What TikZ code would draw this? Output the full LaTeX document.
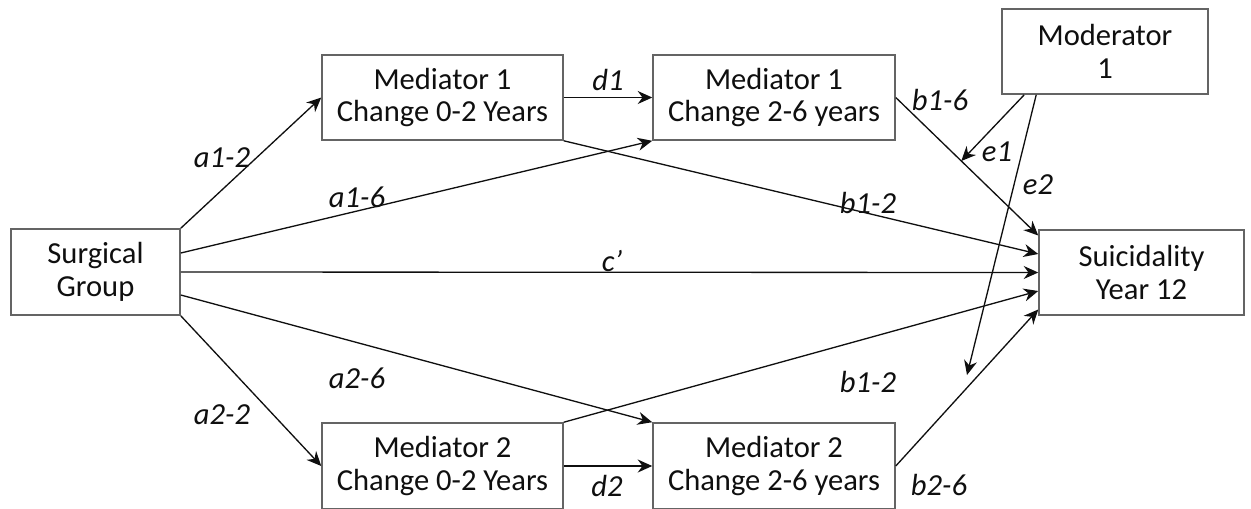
\documentclass[tikz,border=0pt]{standalone}
\usepackage{fontspec}
\setmainfont{Carlito}
\usepackage{tikz}
\usetikzlibrary{arrows.meta, positioning, calc}
\definecolor{boxgray}{RGB}{100,100,100}
\definecolor{inkdark}{RGB}{15,15,15}

\begin{document}
\begin{tikzpicture}[x=0.02cm, y=-0.02cm, >={Stealth[length=2.9mm, width=2.6mm]},
    varbox/.style={draw=boxgray, line width=0.9pt, align=center, text=inkdark, inner sep=0pt,
        font=\fontsize{17.4}{18.4}\selectfont},
    conn/.style={->, line width=0.75pt, color=inkdark},
    lbl/.style={font=\fontsize{17.4}{18.4}\selectfont\itshape, text=inkdark, inner sep=0pt}]
    \useasboundingbox (0,0) rectangle (1251,508);

    \node[varbox, minimum width=3.38cm, minimum height=1.72cm] (surg) at (95.5,272) {Surgical\\Group};
    \node[varbox, minimum width=4.82cm, minimum height=1.70cm] (med1a) at (442.5,97.5) {Mediator 1\\Change 0-2 Years};
    \node[varbox, minimum width=4.84cm, minimum height=1.70cm] (med1b) at (774,97.5) {Mediator 1\\Change 2-6 years};
    \node[varbox, minimum width=4.82cm, minimum height=1.72cm] (med2a) at (442.5,466) {Mediator 2\\Change 0-2 Years};
    \node[varbox, minimum width=4.84cm, minimum height=1.72cm] (med2b) at (774,466) {Mediator 2\\Change 2-6 years};
    \node[varbox, minimum width=4.12cm, minimum height=1.70cm] (mod) at (1105,51.5) {Moderator\\1};
    \node[varbox, minimum width=4.10cm, minimum height=1.70cm] (suic) at (1141.5,272.5) {Suicidality\\Year 12};

    \draw[conn] (surg.north east) -- (med1a.west);
    \draw[conn] ([yshift=0.38cm]surg.east) -- (med1b.south west);
    \draw[conn] (surg.east) -- (suic.west);
    \draw[conn] ([yshift=-0.46cm]surg.east) -- (med2b.north west);
    \draw[conn] (surg.south east) -- (med2a.west);
    \draw[conn] (med1a.east) -- (med1b.west);
    \draw[conn] (med2a.east) -- (med2b.west);
    \draw[conn] (med1a.south east) -- ([yshift=0.37cm]suic.west);
    \draw[conn] (med1b.east) -- coordinate[pos=0.46] (e1tip) ([yshift=0.74cm]suic.west);
    \draw[conn] (med2a.north east) -- ([yshift=-0.37cm]suic.west);
    \draw[conn] (med2b.east) -- ([yshift=-0.74cm]suic.west);
    \coordinate (e2tip) at (967,375);
    \draw[conn] ([xshift=0.46cm]mod.south west) -- (e1tip);
    \draw[conn] ([xshift=0.70cm]mod.south west) -- (e2tip);

    \node[lbl] (la12) at (222,158) {a1-2};
    \node[lbl] (la16) at (357,197) {a1-6};
    \node[lbl] (lc) at (612,261) {c'};
    \node[lbl] (la26) at (357,378) {a2-6};
    \node[lbl] (la22) at (222,415) {a2-2};
    \node[lbl] (ld1) at (608,80) {d1};
    \node[lbl] (ld2) at (607,486) {d2};
    \node[lbl] (lb12a) at (868,203) {b1-2};
    \node[lbl] (lb16) at (940,100) {b1-6};
    \node[lbl] (lb12b) at (868,382) {b1-2};
    \node[lbl] (lb26) at (939,485) {b2-6};
    \node[lbl] (le1) at (997,152) {e1};
    \node[lbl] (le2) at (1038,185) {e2};
\end{tikzpicture}
\end{document}
